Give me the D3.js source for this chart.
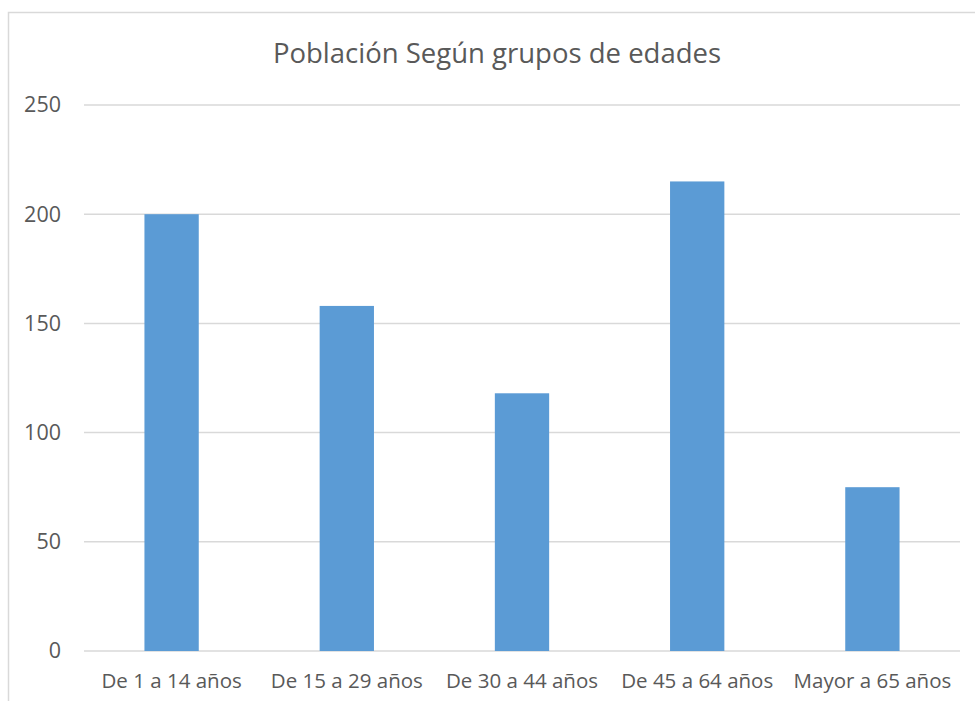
<!DOCTYPE html>
<html>
<head>
<meta charset="utf-8">
<script src="https://cdn.jsdelivr.net/npm/d3@7"></script>
<style>
  body { margin: 0; background: #fff; }
  text { font-family: "Open Sans", sans-serif; fill: #595959; }
</style>
</head>
<body>
<div id="chart"></div>
<script>
var categories = ["De 1 a 14 años", "De 15 a 29 años", "De 30 a 44 años", "De 45 a 64 años", "Mayor a 65 años"];
var values = [200, 158, 118, 215, 75];
var yTicks = [0, 50, 100, 150, 200, 250];
var title = "Población Según grupos de edades";

var W = 975, H = 701;
var margin = {top: 105, right: 15, bottom: 50, left: 84},
    width = W - margin.left - margin.right,
    height = H - margin.top - margin.bottom;

var svg = d3.select("#chart")
  .append("svg")
    .attr("width", W)
    .attr("height", H);

// chart area border (runs off the right and bottom edges)
svg.append("rect")
    .attr("x", 8.5).attr("y", 12.5)
    .attr("width", W + 20).attr("height", H + 20)
    .attr("fill", "none")
    .attr("stroke", "#d9d9d9")
    .attr("stroke-width", 1.5);

// title is centred on the whole chart box, not the plot
svg.append("text")
    .attr("x", 497)
    .attr("y", 63)
    .attr("text-anchor", "middle")
    .style("font-size", "27.5px")
    .text(title);

var g = svg.append("g")
    .attr("transform", "translate(" + margin.left + "," + margin.top + ")");

var x = d3.scaleBand()
    .domain(categories)
    .range([0, width])
    .paddingInner(0.69)
    .paddingOuter(0.345);

var y = d3.scaleLinear()
    .domain([0, 250])
    .range([height, 0]);

// gridlines
g.append("g")
    .selectAll("line")
    .data(yTicks)
    .enter().append("line")
    .attr("x1", 0).attr("x2", width)
    .attr("y1", function(d) { return y(d); })
    .attr("y2", function(d) { return y(d); })
    .attr("stroke", "#d9d9d9")
    .attr("stroke-width", 1.5);

g.selectAll(".bar")
    .data(values)
    .enter().append("rect")
    .attr("class", "bar")
    .attr("fill", "#5b9bd5")
    .attr("x", function(d, i) { return x(categories[i]); })
    .attr("width", x.bandwidth())
    .attr("y", function(d) { return y(d); })
    .attr("height", function(d) { return height - y(d); });

// y axis labels
var yAxis = g.append("g")
    .call(d3.axisLeft(y).tickValues(yTicks).tickSize(0).tickPadding(23));
yAxis.select(".domain").remove();
yAxis.selectAll("text")
    .style("font-size", "21.5px")
    .attr("fill", "#595959");

// x axis labels
var xAxis = g.append("g")
    .attr("transform", "translate(0," + height + ")")
    .call(d3.axisBottom(x).tickSize(0).tickPadding(22));
xAxis.select(".domain").remove();
xAxis.selectAll("text")
    .style("font-size", "20.5px")
    .attr("fill", "#595959");
</script>
</body>
</html>
